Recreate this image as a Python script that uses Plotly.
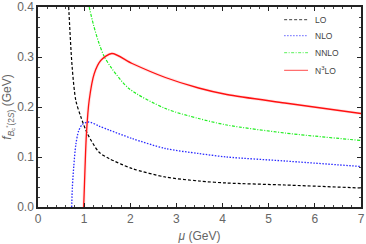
import plotly.graph_objects as go

# LO
lo_x = [0.665, 0.74, 0.82, 0.93, 1.07, 1.32, 1.54, 2.04, 2.76, 3.48, 4.09, 5.35, 7.0]
lo_y = [0.40, 0.28, 0.213, 0.18, 0.147, 0.110, 0.097, 0.077, 0.060, 0.052, 0.048, 0.044, 0.038]
# NLO
nlo_x = [0.73, 0.745, 0.775, 0.82, 0.88, 0.96, 1.1, 1.32, 1.54, 2.04, 2.76, 3.48, 4.09, 5.35, 7.0]
nlo_y = [0.0, 0.04, 0.081, 0.125, 0.152, 0.165, 0.170, 0.162, 0.154, 0.137, 0.117, 0.107, 0.100, 0.092, 0.081]
# NNLO
nnlo_x = [1.11, 1.2, 1.32, 1.43, 1.6, 1.97, 2.76, 3.48, 4.09, 5.35, 7.0]
nnlo_y = [0.40, 0.365, 0.328, 0.302, 0.277, 0.237, 0.197, 0.177, 0.164, 0.148, 0.133]
# N3LO
n3lo_x = [0.99, 1.02, 1.05, 1.11, 1.22, 1.36, 1.6, 2.04, 2.76, 3.48, 4.09, 5.35, 7.0]
n3lo_y = [0.0, 0.081, 0.147, 0.214, 0.267, 0.293, 0.307, 0.287, 0.259, 0.238, 0.225, 0.208, 0.187]

series_names = ["LO", "NLO", "NNLO", "N<sup>3</sup>LO"]

x_ticks = [0, 1, 2, 3, 4, 5, 6, 7]
y_ticks = [0.0, 0.1, 0.2, 0.3, 0.4]
y_tick_labels = ["0.0", "0.1", "0.2", "0.3", "0.4"]

styles = [
    dict(color="black", width=1.2, dash="3px,2px"),
    dict(color="#2a2aff", width=1.3, dash="1.5px,1.5px"),
    dict(color="#22ee22", width=1.2, dash="3px,1.5px,1px,1.5px"),
    dict(color="#ff1010", width=1.3, dash="solid"),
]

fig = go.Figure()

# faint uncertainty band look for N3LO
fig.add_trace(go.Scatter(x=n3lo_x, y=n3lo_y, mode="lines", showlegend=False,
                         line=dict(color="rgba(255,140,140,0.22)", width=3.2, shape="spline", smoothing=0.8),
                         hoverinfo="skip"))

for xs, ys, name, st in zip([lo_x, nlo_x, nnlo_x, n3lo_x], [lo_y, nlo_y, nnlo_y, n3lo_y], series_names, styles):
    fig.add_trace(go.Scatter(x=xs, y=ys, mode="lines", name=name, showlegend=False,
                             line=dict(shape="spline", smoothing=0.8, **st)))

# legend drawn in the upper right of the frame
leg_rows = [0.9365, 0.8565, 0.7715, 0.6835]
for yy, name, st in zip(leg_rows, series_names, styles):
    fig.add_shape(type="line", xref="paper", yref="paper", x0=0.762, x1=0.836, y0=yy, y1=yy,
                  line=dict(color=st["color"], width=1.0, dash=st["dash"]), opacity=0.75)
    fig.add_annotation(xref="paper", yref="paper", x=0.851, y=yy, text=name, showarrow=False,
                       xanchor="left", yanchor="middle",
                       font=dict(family="Liberation Sans", size=8.5, color="#444"))

axis_common = dict(
    showline=True, linecolor="#222", linewidth=1.5, mirror="ticks",
    ticks="inside", ticklen=4, tickcolor="#222", tickwidth=1,
    showgrid=False, zeroline=False, automargin=False,
    tickfont=dict(family="Liberation Sans", size=12, color="#666"),
)

fig.update_xaxes(range=[0, 7], tickvals=x_ticks, **axis_common,
                 minor=dict(ticks="inside", ticklen=2, tickcolor="#444", dtick=0.2, showgrid=False),
                 title=dict(text="<i>μ</i> (GeV)", font=dict(family="Liberation Sans", size=12, color="#666"),
                            standoff=6))
fig.update_yaxes(range=[0, 0.4], tickvals=y_ticks, ticktext=y_tick_labels, **axis_common,
                 minor=dict(ticks="inside", ticklen=2, tickcolor="#444", dtick=0.02, showgrid=False),
                 title=dict(text="<i>f</i><sub><i>B</i><sub>c</sub><sup>*</sup>(2<i>S</i>)</sub> (GeV)",
                            font=dict(family="Liberation Sans", size=12, color="#666"), standoff=4))

fig.update_layout(
    width=366, height=244,
    margin=dict(l=38, r=5, t=7, b=37),
    plot_bgcolor="white", paper_bgcolor="white",
    showlegend=False,
)

fig.write_html("out.html", config={"displayModeBar": False},
               post_script="document.body.style.margin='0';document.body.style.overflow='hidden';")
